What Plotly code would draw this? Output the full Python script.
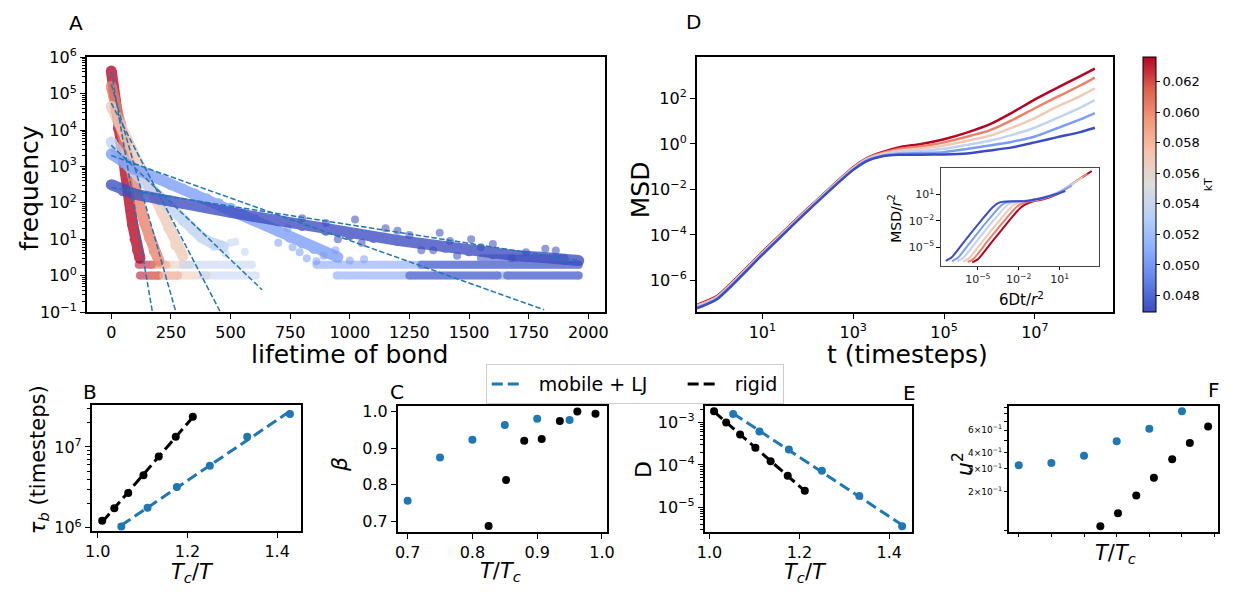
import numpy as np
import plotly.graph_objects as go
from plotly.colors import sample_colorscale

W, H = 1241, 596
FONT = "DejaVu Sans"

# ------------------------------------------------------------------ data
kT = [0.0469, 0.0502, 0.0536, 0.0569, 0.0603, 0.0636]

# Panel A - bond lifetime histograms (index 0 = lowest kT, 5 = highest)
bond_x_0 = [0, 50, 100, 150, 200, 250, 300, 400, 500, 600, 700, 800, 900, 1000, 1100, 1200,
            1300, 1400, 1500, 1600, 1700, 1800, 1900, 1960]
bond_f_0 = [316, 214, 174, 148, 126, 112, 98, 74, 55, 42, 32, 24, 17.8, 13.5, 11.2, 9.3,
            7.6, 6.0, 4.8, 4.0, 3.5, 3.2, 2.8, 2.6]
bond_x_1 = [0, 50, 100, 150, 200, 250, 300, 350, 400, 450, 500, 550, 600, 650, 700, 750,
            800, 850, 900, 950]
bond_f_1 = [2200, 1260, 830, 630, 450, 316, 240, 174, 129, 95, 71, 50, 35, 24, 16.6, 11.2,
            7.9, 5.6, 4.2, 3.2]
bond_x_2 = [0, 30, 60, 90, 120, 150, 180, 210, 240, 270, 300, 340, 380, 420, 470]
bond_f_2 = [4700, 2100, 1260, 760, 500, 316, 200, 126, 83, 52, 33, 19, 11, 8, 6.3]
bond_x_3 = [0, 30, 60, 90, 120, 150, 180, 210, 240, 270, 300]
bond_f_3 = [45000, 16000, 6000, 2200, 950, 380, 160, 56, 21, 7, 3.5]
bond_x_4 = [0, 20, 40, 60, 80, 100, 120, 140, 160, 180, 200]
bond_f_4 = [160000, 40000, 14000, 4200, 1200, 257, 79, 28, 11, 4.8, 2.5]
bond_x_5 = [0, 10, 20, 30, 40, 50, 60, 70, 80, 90, 100, 110, 120]
bond_f_5 = [420000, 120000, 33000, 11000, 5000, 1900, 630, 210, 71, 25, 10, 5, 3]

# runs of low counts (count, first lifetime, last lifetime)
row_n_0 = [1, 1, 2, 3]
row_a_0 = [1250, 1660, 1300, 1550]
row_b_0 = [1620, 1960, 1960, 1900]
row_n_1 = [1, 2]
row_a_1 = [945, 860]
row_b_1 = [1960, 1960]
row_n_2 = [1, 2]
row_a_2 = [385, 300]
row_b_2 = [607, 590]
row_n_3 = [1, 2]
row_a_3 = [218, 246]
row_b_3 = [400, 330]
row_n_4 = [1, 2]
row_a_4 = [165, 180]
row_b_4 = [280, 232]
row_n_5 = [1, 2]
row_a_5 = [120, 115]
row_b_5 = [200, 170]

# scattered outliers
extra_x_0 = [1022, 1150, 1377, 1509, 1600, 1739, 1864, 1300, 1450, 1680, 800, 900, 950, 1050,
             1200, 1250, 1350, 1420, 1550, 1820]
extra_f_0 = [35, 20, 15, 10, 7.4, 4.4, 4.9, 5, 3.5, 3, 38, 28, 10, 8,
             17, 13, 5, 9, 6, 5.5]
extra_x_1 = [700, 760, 790, 820, 860, 890, 940, 1000, 1060, 740]
extra_f_1 = [8, 6, 4.4, 3, 2.5, 3.5, 5, 2.6, 2.8, 20]
extra_x_2 = [430, 455, 480, 500, 520, 560]
extra_f_2 = [6, 7, 4, 8, 8.5, 4.5]

# exponential fits (start at lifetime 0)
fit_x_end = [1962, 1815, 632, 465, 275, 175]
fit_f_start = [263, 2000, 3800, 55000, 180000, 400000]
fit_f_end = [2.6, 0.115, 0.41, 0.08, 0.08, 0.08]

# Panel D - MSD curves (log10 values)
msd_log_t = [-0.44, 0, 1, 2, 3, 3.3, 3.6, 4.0, 4.5, 5.0, 5.5, 6.0, 6.5, 7.0, 7.5, 8.0, 8.32]
msd_log_0 = [-7.23, -6.83, -4.87, -2.94, -1.14, -0.75, -0.56, -0.48, -0.47, -0.46, -0.42, -0.29, -0.15, 0.07, 0.30, 0.52, 0.71]
msd_log_1 = [-7.20, -6.80, -4.85, -2.92, -1.12, -0.72, -0.54, -0.43, -0.40, -0.36, -0.22, -0.07, 0.10, 0.33, 0.70, 1.08, 1.36]
msd_log_2 = [-7.17, -6.77, -4.82, -2.90, -1.10, -0.69, -0.50, -0.37, -0.30, -0.21, -0.04, 0.14, 0.40, 0.72, 1.15, 1.60, 1.93]
msd_log_3 = [-7.13, -6.74, -4.80, -2.88, -1.07, -0.67, -0.46, -0.30, -0.20, -0.07, 0.13, 0.36, 0.72, 1.14, 1.65, 2.10, 2.45]
msd_log_4 = [-7.10, -6.72, -4.77, -2.86, -1.05, -0.64, -0.42, -0.22, -0.10, 0.07, 0.32, 0.60, 1.05, 1.57, 2.08, 2.57, 2.92]
msd_log_5 = [-7.07, -6.69, -4.75, -2.84, -1.02, -0.62, -0.38, -0.15, 0.00, 0.21, 0.50, 0.86, 1.38, 1.96, 2.48, 2.98, 3.31]
# inset scaling factors: log10(6D/r^2) and log10(1/r^2)
inset_log_xscale = [-6.91, -6.44, -6.05, -5.64, -5.30, -4.97]
inset_log_yscale = [0.67, 0.62, 0.56, 0.49, 0.41, 0.34]

# Panels B, C, E, F
rigid_TcT = [1.010, 1.037, 1.068, 1.102, 1.136, 1.174, 1.212]
mobile_TcT = [1.0526, 1.1111, 1.1765, 1.25, 1.3333, 1.4286]
rigid_TTc = [0.825, 0.852, 0.880, 0.907, 0.935, 0.962, 0.990]
mobile_TTc = [0.70, 0.75, 0.80, 0.85, 0.90, 0.95]
rigid_tau = [1.22e6, 1.74e6, 2.70e6, 4.45e6, 7.59e6, 1.34e7, 2.36e7]
mobile_tau = [1.04e6, 1.77e6, 3.19e6, 5.86e6, 1.34e7, 2.56e7]
rigid_beta = [0.687, 0.813, 0.920, 0.925, 0.974, 1.000, 0.994]
mobile_beta = [0.756, 0.874, 0.923, 0.963, 0.980, 0.977]
rigid_D = [1.85e-3, 1.0e-3, 5.24e-4, 2.55e-4, 1.22e-4, 5.56e-5, 2.44e-5]
mobile_D = [1.60e-3, 6.12e-4, 2.30e-4, 7.23e-5, 1.85e-5, 3.56e-6]
rigid_u2 = [0.108, 0.136, 0.187, 0.257, 0.356, 0.477, 0.639]
mobile_u2 = [0.320, 0.333, 0.380, 0.491, 0.614, 0.837]

# tick labels
kT_ticks = [0.048, 0.050, 0.052, 0.054, 0.056, 0.058, 0.060, 0.062]

# ------------------------------------------------------------------ style
COOLWARM = [[0.0, '#3b4cc0'], [0.125, '#6282ea'], [0.25, '#8db0fe'], [0.375, '#b8d0f9'],
            [0.5, '#dddddd'], [0.625, '#f5c4ad'], [0.75, '#f49a7b'], [0.875, '#de604d'],
            [1.0, '#b40426']]
kmin, kmax = min(kT), max(kT)
cols = sample_colorscale(COOLWARM, [(k - kmin) / (kmax - kmin) for k in kT])
BLUE = '#1f77b4'
NB = '\u00a0'


def xd(a, b):
    return [a / W, b / W]


def yd(top, bottom):
    return [1 - bottom / H, 1 - top / H]


def pow_text(e):
    s = str(e).replace('-', '\u2212')
    return '10<sup>' + s + '</sup>'


def minor_log(lo, hi):
    return [k * 10.0 ** n for n in range(lo, hi + 1) for k in range(2, 10)]


def ax(**kw):
    d = dict(showline=True, mirror=True, linecolor='black', linewidth=2, ticks='outside',
             ticklen=5, tickwidth=1.2, tickcolor='black', showgrid=False, zeroline=False,
             tickfont=dict(family=FONT, size=16, color='black'))
    d.update(kw)
    return d


fig = go.Figure()

# ------------------------------------------------------------------ panel A
bond_x = [bond_x_0, bond_x_1, bond_x_2, bond_x_3, bond_x_4, bond_x_5]
bond_f = [bond_f_0, bond_f_1, bond_f_2, bond_f_3, bond_f_4, bond_f_5]
row_n = [row_n_0, row_n_1, row_n_2, row_n_3, row_n_4, row_n_5]
row_a = [row_a_0, row_a_1, row_a_2, row_a_3, row_a_4, row_a_5]
row_b = [row_b_0, row_b_1, row_b_2, row_b_3, row_b_4, row_b_5]
extra_x = [extra_x_0, extra_x_1, extra_x_2]
extra_f = [extra_f_0, extra_f_1, extra_f_2]

for i in range(5, -1, -1):
    rx, ry = [], []
    for n, a, b in zip(row_n[i], row_a[i], row_b[i]):
        rx += [a, b, None]
        ry += [n, n, None]
    fig.add_trace(go.Scatter(x=rx, y=ry, mode='lines+markers', opacity=0.55,
                             line=dict(color=cols[i], width=8), marker=dict(size=8, color=cols[i]),
                             xaxis='x', yaxis='y', showlegend=False, hoverinfo='skip'))
    if i < len(extra_x):
        fig.add_trace(go.Scatter(x=extra_x[i], y=extra_f[i], mode='markers', opacity=0.55,
                                 marker=dict(size=8, color=cols[i]),
                                 xaxis='x', yaxis='y', showlegend=False, hoverinfo='skip'))
    fig.add_trace(go.Scatter(x=bond_x[i], y=bond_f[i], mode='lines+markers', opacity=0.78,
                             line=dict(color=cols[i], width=11), marker=dict(size=11, color=cols[i]),
                             xaxis='x', yaxis='y', showlegend=False, hoverinfo='skip'))

for i in range(6):
    fig.add_trace(go.Scatter(x=[0, fit_x_end[i]], y=[fit_f_start[i], fit_f_end[i]], mode='lines',
                             line=dict(color=BLUE, width=1.5, dash='5.5px,2.4px'),
                             xaxis='x', yaxis='y', showlegend=False, hoverinfo='skip'))

# ------------------------------------------------------------------ panel D + inset
msd_log = [msd_log_0, msd_log_1, msd_log_2, msd_log_3, msd_log_4, msd_log_5]
lt = np.array(msd_log_t)
for i in range(5, -1, -1):
    lm = np.array(msd_log[i])
    fig.add_trace(go.Scatter(x=10 ** lt, y=10 ** lm, mode='lines',
                             line=dict(color=cols[i], width=2.5, shape='spline', smoothing=0.6),
                             xaxis='x2', yaxis='y2', showlegend=False, hoverinfo='skip'))
for i in range(5, -1, -1):
    lm = np.array(msd_log[i])
    fig.add_trace(go.Scatter(x=10 ** (lt + inset_log_xscale[i]), y=10 ** (lm + inset_log_yscale[i]),
                             mode='lines',
                             line=dict(color=cols[i], width=2, shape='spline', smoothing=0.6),
                             xaxis='x3', yaxis='y3', showlegend=False, hoverinfo='skip'))

# colour bar
TOP = 48
fig.add_trace(go.Scatter(
    x=[None], y=[None], mode='markers', xaxis='x2', yaxis='y2', showlegend=False, hoverinfo='skip',
    marker=dict(color=[kmin], cmin=kmin, cmax=kmax, colorscale=COOLWARM, showscale=True, size=0.1,
                colorbar=dict(x=1150 / W, xanchor='left', xpad=0, y=1 - TOP / H, yanchor='top', ypad=0,
                              len=(312 - TOP) / H, lenmode='fraction', thickness=13, thicknessmode='pixels',
                              outlinewidth=1, outlinecolor='black', ticks='outside', ticklen=4,
                              tickwidth=1, tickcolor='black', tickvals=kT_ticks,
                              ticktext=['%.3f' % v for v in kT_ticks],
                              tickfont=dict(family=FONT, size=13, color='black'),
                              title=dict(text='kT', side='right',
                                         font=dict(family=FONT, size=11, color='black'))))))

# ------------------------------------------------------------------ panels B and E (fits + points)
def fit_line(xs, ys):
    p = np.polyfit(np.array(xs), np.log10(ys), 1)
    xe = np.array([min(xs), max(xs)])
    return xe, 10 ** np.polyval(p, xe)


DASH = '11px,5px'
for (xa, ya, rx, ry, mx, my, leg) in [('x4', 'y4', rigid_TcT, rigid_tau, mobile_TcT, mobile_tau, True),
                                      ('x6', 'y6', rigid_TcT, rigid_D, mobile_TcT, mobile_D, False)]:
    xe, ye = fit_line(mx, my)
    fig.add_trace(go.Scatter(x=xe, y=ye, mode='lines', name=NB * 2 + 'mobile + LJ' + NB * 5, showlegend=leg,
                             line=dict(color=BLUE, width=3, dash=DASH), xaxis=xa, yaxis=ya, hoverinfo='skip'))
    xe, ye = fit_line(rx, ry)
    fig.add_trace(go.Scatter(x=xe, y=ye, mode='lines', name=NB * 2 + 'rigid', showlegend=leg,
                             line=dict(color='black', width=3, dash=DASH), xaxis=xa, yaxis=ya, hoverinfo='skip'))
    fig.add_trace(go.Scatter(x=mx, y=my, mode='markers', marker=dict(size=8, color=BLUE),
                             xaxis=xa, yaxis=ya, showlegend=False, hoverinfo='skip'))
    fig.add_trace(go.Scatter(x=rx, y=ry, mode='markers', marker=dict(size=8, color='black'),
                             xaxis=xa, yaxis=ya, showlegend=False, hoverinfo='skip'))

for (xa, ya, my, ry) in [('x5', 'y5', mobile_beta, rigid_beta), ('x7', 'y7', mobile_u2, rigid_u2)]:
    fig.add_trace(go.Scatter(x=mobile_TTc, y=my, mode='markers', marker=dict(size=8, color=BLUE),
                             xaxis=xa, yaxis=ya, showlegend=False, hoverinfo='skip'))
    fig.add_trace(go.Scatter(x=rigid_TTc, y=ry, mode='markers', marker=dict(size=8, color='black'),
                             xaxis=xa, yaxis=ya, showlegend=False, hoverinfo='skip'))

# ------------------------------------------------------------------ axes
a_ticks = list(range(0, 2001, 250))
mtick = dict(ticks='outside', ticklen=3, tickwidth=1, tickcolor='black')
layout = dict(
    width=W, height=H, margin=dict(l=0, r=0, t=0, b=0), paper_bgcolor='white', plot_bgcolor='white',
    font=dict(family=FONT, color='black'),
    xaxis=ax(domain=xd(80, 605), range=[-102, 2071], tickvals=a_ticks, ticktext=[str(v) for v in a_ticks],
             anchor='y'),
    yaxis=ax(domain=yd(TOP, 312), type='log', range=[-1, 6], tickvals=[10.0 ** e for e in range(-1, 7)],
             ticktext=[pow_text(e) for e in range(-1, 7)], anchor='x',
             minor=dict(tickvals=minor_log(-1, 5), **mtick)),
    xaxis2=ax(domain=xd(698, 1119), type='log', range=[-0.44, 8.71],
              tickvals=[10.0 ** e for e in (1, 3, 5, 7)], ticktext=[pow_text(e) for e in (1, 3, 5, 7)],
              anchor='y2'),
    yaxis2=ax(domain=yd(TOP, 312), type='log', range=[-7.39, 3.81],
              tickvals=[10.0 ** e for e in (-6, -4, -2, 0, 2)],
              ticktext=[pow_text(e) for e in (-6, -4, -2, 0, 2)], anchor='x2'),
    xaxis3=ax(domain=xd(945, 1105), type='log', range=[-7.71, 3.86], linewidth=1, linecolor='#444444',
              ticklen=3.5, tickwidth=1, tickvals=[10.0 ** e for e in (-5, -2, 1)],
              ticktext=[pow_text(e) for e in (-5, -2, 1)], tickfont=dict(family=FONT, size=11, color='#222222'),
              anchor='y3'),
    yaxis3=ax(domain=yd(163, 264), type='log', range=[-7.11, 3.96], linewidth=1, linecolor='#444444',
              ticklen=3.5, tickwidth=1, tickvals=[10.0 ** e for e in (-5, -2, 1)],
              ticktext=[pow_text(e) for e in (-5, -2, 1)], tickfont=dict(family=FONT, size=11, color='#222222'),
              anchor='x3'),
    xaxis4=ax(domain=xd(85, 296.7), range=[0.987, 1.453], tickvals=[1.0, 1.2, 1.4],
              ticktext=['1.0', '1.2', '1.4'], anchor='y4'),
    yaxis4=ax(domain=yd(408.3, 539), type='log', range=[5.96, 7.52], tickvals=[1e6, 1e7],
              ticktext=[pow_text(6), pow_text(7)], anchor='x4', minor=dict(tickvals=minor_log(5, 7), **mtick)),
    xaxis5=ax(domain=xd(395, 606.7), range=[0.685, 1.0076], tickvals=[0.7, 0.8, 0.9, 1.0],
              ticktext=['0.7', '0.8', '0.9', '1.0'], anchor='y5'),
    yaxis5=ax(domain=yd(409, 540), range=[0.671, 1.016], tickvals=[0.7, 0.8, 0.9, 1.0],
              ticktext=['0.7', '0.8', '0.9', '1.0'], anchor='x5'),
    xaxis6=ax(domain=xd(706, 916), range=[0.9897, 1.451], tickvals=[1.0, 1.2, 1.4],
              ticktext=['1.0', '1.2', '1.4'], anchor='y6'),
    yaxis6=ax(domain=yd(409.3, 540), type='log', range=[-5.585, -2.605], tickvals=[1e-5, 1e-4, 1e-3],
              ticktext=[pow_text(-5), pow_text(-4), pow_text(-3)], anchor='x6',
              minor=dict(tickvals=minor_log(-6, -3), **mtick)),
    xaxis7=ax(domain=xd(1014, 1225.7), range=[0.685, 1.005], tickvals=[0.7, 0.75, 0.8, 0.85, 0.9, 0.95, 1.0],
              showticklabels=False, ticklen=3, tickwidth=1, anchor='y7'),
    yaxis7=ax(domain=yd(409, 540), type='log', range=[-1.0104, -0.0328],
              tickvals=[0.1, 0.2, 0.3, 0.4, 0.6],
              ticktext=['', '2\u00d710<sup>\u22121</sup>', '3\u00d710<sup>\u22121</sup>',
                        '4\u00d710<sup>\u22121</sup>', '6\u00d710<sup>\u22121</sup>'],
              tickfont=dict(family=FONT, size=9, color='black'), ticklen=3, tickwidth=1, anchor='x7',
              minor=dict(tickvals=[0.5, 0.7, 0.8, 0.9], **mtick)),
    legend=dict(orientation='h', x=484 / W, y=1 - 366 / H, xanchor='left', yanchor='top',
                font=dict(family=FONT, size=19, color='black'), bgcolor='white', bordercolor='#cccccc',
                borderwidth=1),
)
fig.update_layout(**layout)

# ------------------------------------------------------------------ text
anns = [
    ('A', 69, 12, 20, 0), ('D', 694, 11, 20, 0), ('B', 83.5, 395, 20, 0), ('C', 394.5, 395, 20, 0),
    ('E', 913, 396, 20, 0), ('F', 1222, 393, 20, 0),
    ('frequency', 21, 183.5, 25, -90), ('lifetime of bond', 345.6, 356, 25, 0),
    ('MSD', 641, 185, 25, -90), ('t (timesteps)', 911.6, 356, 25, 0),
    ('MSD/<i>r</i><sup>2</sup>', 899, 215, 14, -90), ('6Dt/<i>r</i><sup>2</sup>', 1027, 298, 15, 0),
    ('<i>\u03c4</i><sub><i>b</i></sub> (timesteps)', 31, 465, 21, -90),
    ('<i>T</i><sub><i>c</i></sub>/<i>T</i>', 187, 583, 21, 0),
    ('<i>\u03b2</i>', 336, 470, 22, -90),
    ('<i>T</i>/<i>T</i><sub><i>c</i></sub>', 499, 582, 21, 0),
    ('D', 644, 475, 22, -90),
    ('<i>T</i><sub><i>c</i></sub>/<i>T</i>', 808, 583, 21, 0),
    ('<i>u</i><sup>2</sup>', 968, 470, 22, -90),
    ('<i>T</i>/<i>T</i><sub><i>c</i></sub>', 1122, 563, 21, 0),
]
for text, x, y, size, ang in anns:
    fig.add_annotation(text=text, x=x / W, y=1 - y / H, xref='paper', yref='paper', showarrow=False,
                       xanchor='center', yanchor='middle', textangle=ang,
                       font=dict(family=FONT, size=size, color='black'))

fig.write_html("out.html")
